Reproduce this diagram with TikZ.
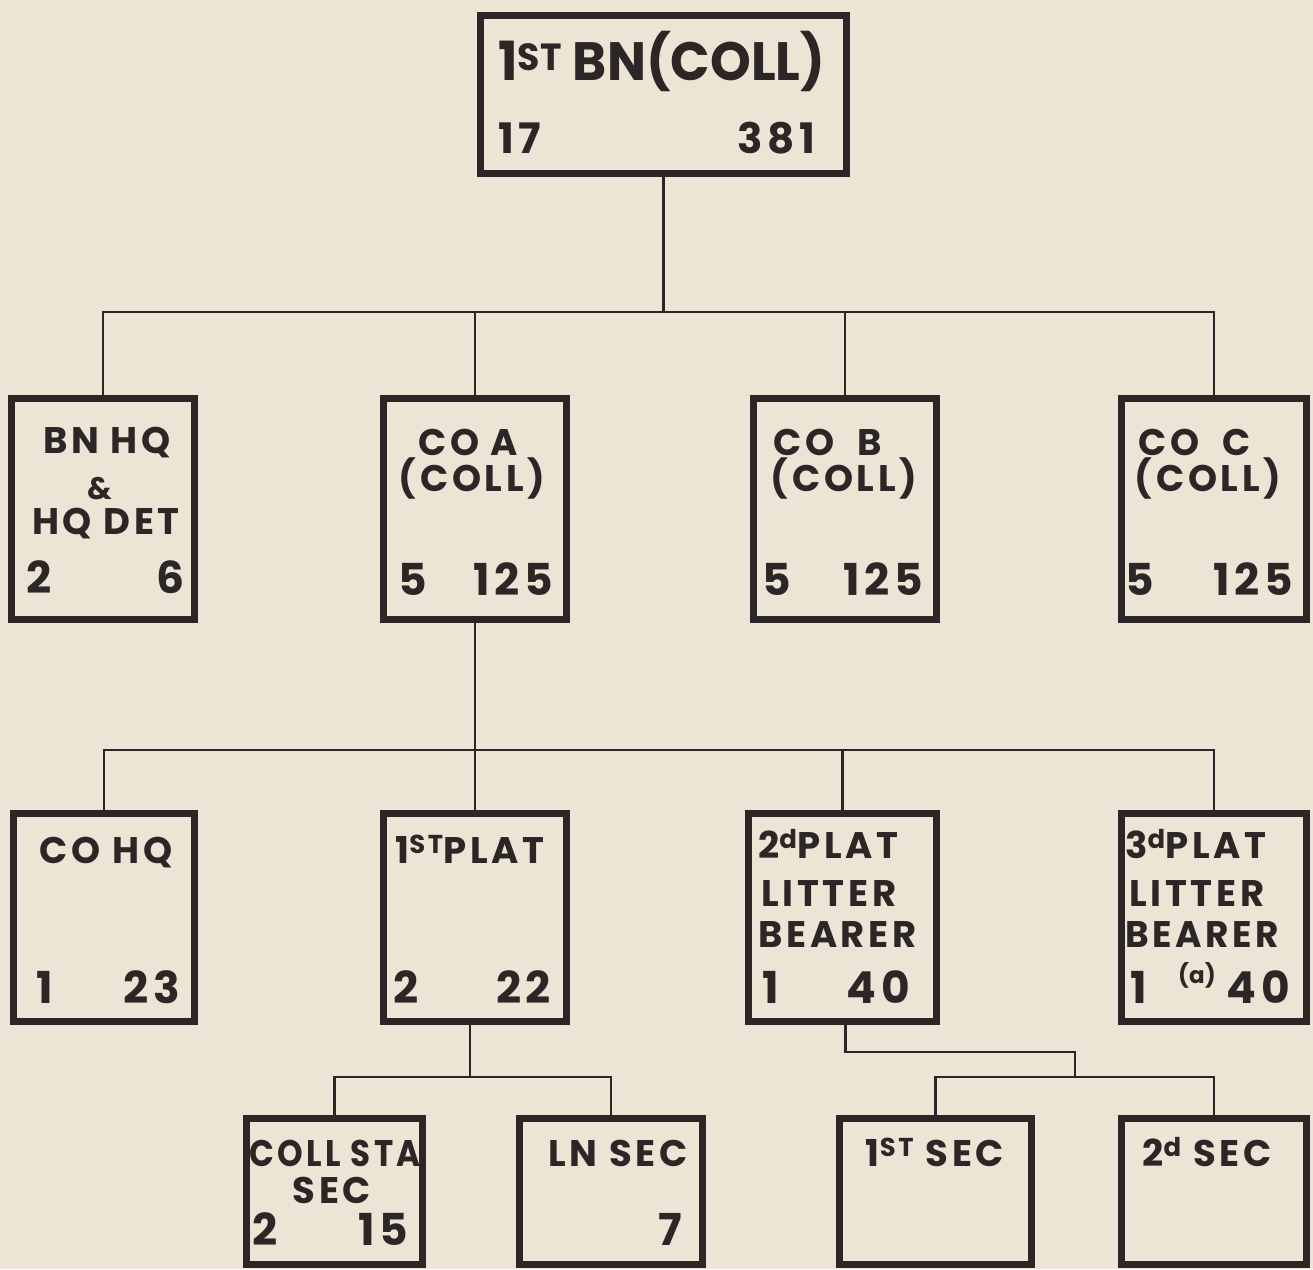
\documentclass[tikz,border=0pt]{standalone}
\usepackage{fontspec}
\newfontfamily\lett{Poppins}[LetterSpace=10]
\newfontfamily\lettb{Poppins}[LetterSpace=0]
\definecolor{bg}{RGB}{236,229,213}
\definecolor{ink}{RGB}{45,38,38}
\begin{document}
\begin{tikzpicture}[x=1pt,y=-1pt,
  box/.style={draw=ink, line width=7pt, inner sep=0pt},
  link/.style={draw=ink, line width=2.3pt},
  ttl/.style={text=ink, inner sep=0pt, font=\lett\bfseries\fontsize{37}{40}\selectfont},
  bigttl/.style={text=ink, inner sep=0pt, font=\lettb\bfseries\fontsize{54}{58}\selectfont},
  num/.style={text=ink, inner sep=0pt, font=\lett\bfseries\fontsize{44}{48}\selectfont},
  bignum/.style={text=ink, inner sep=0pt, font=\lett\bfseries\fontsize{42}{46}\selectfont},
  small/.style={text=ink, inner sep=0pt, font=\lettb\bfseries\fontsize{23}{25}\selectfont},
  amp/.style={text=ink, inner sep=0pt, font=\lettb\bfseries\fontsize{31}{33}\selectfont}]
\fill[bg] (0,0) rectangle (1313,1269);
\useasboundingbox (0,0) rectangle (1313,1269);

% boxes
\node[box, minimum width=366, minimum height=158] (top) at (663.5,94.5) {};
\node[box, minimum width=183, minimum height=221] (bnhq) at (103,509) {};
\node[box, minimum width=183, minimum height=221] (coa) at (475,509) {};
\node[box, minimum width=183, minimum height=221] (cob) at (845,509) {};
\node[box, minimum width=185, minimum height=221] (coc) at (1214,509) {};
\node[box, minimum width=181, minimum height=208] (cohq) at (104,917.5) {};
\node[box, minimum width=183, minimum height=208] (plat1) at (475,917.5) {};
\node[box, minimum width=188, minimum height=208] (plat2) at (842.5,917.5) {};
\node[box, minimum width=185, minimum height=208] (plat3) at (1214,917.5) {};
\node[box, minimum width=176, minimum height=146] (collsta) at (334.5,1191.5) {};
\node[box, minimum width=183, minimum height=146] (lnsec) at (611,1191.5) {};
\node[box, minimum width=192, minimum height=146] (sec1) at (935.5,1191.5) {};
\node[box, minimum width=185, minimum height=146] (sec2) at (1214,1191.5) {};

% connectors
\coordinate (j1) at (663.5,312);
\coordinate (j2) at (475,750);
\coordinate (j3) at (470,1077);
\coordinate (j4) at (1075,1077);
\draw[link] (top.south) -- (j1);
\draw[link] (bnhq.north) -- (bnhq.north |- j1) -- (coc.north |- j1) -- (coc.north);
\draw[link] (coa.north) -- (coa.north |- j1);
\draw[link] (cob.north) -- (cob.north |- j1);
\draw[link] (coa.south) -- (j2);
\draw[link] (cohq.north) -- (cohq.north |- j2) -- (plat3.north |- j2) -- (plat3.north);
\draw[link] (plat1.north) -- (plat1.north |- j2);
\draw[link] (plat2.north) -- (plat2.north |- j2);
\draw[link] (plat1.south -| j3) -- (j3);
\draw[link] (collsta.north) |- (j3) -| (lnsec.north);
\draw[link] ([xshift=3pt]plat2.south) -- ++(0,27) -| (j4);
\draw[link] (sec1.north) |- (j4) -| (sec2.north);

% texts: top
\node[bigttl, anchor=base west] (t1) at (498,80) {\scalebox{0.96}[1]{1\textsuperscript{ST} BN(COLL)}};
\node[bignum, anchor=base west] (t1a) at (498,153) {17};
\node[bignum, anchor=base east] (t1b) at (815,153) {381};
% level 2
\node[ttl, anchor=base] (t2a) at (107,453) {BN HQ};
\node[amp, anchor=base] (t2b) at (100,499) {\&};
\node[ttl, anchor=base] (t2c) at (106,534) {HQ DET};
\node[num, anchor=base west] (n2a) at (26,593) {2};
\node[num, anchor=base east] (n2b) at (185,593) {6};
\node[ttl, anchor=base] (t3a) at (468,455) {CO A};
\node[ttl, anchor=base] (t3b) at (472,491) {(COLL)};
\node[num, anchor=base west] (n3a) at (398,595) {5};
\node[num, anchor=base east] (n3b) at (553,595) {125};
\node[ttl, anchor=base] (t4a) at (828,455) {CO\ \ B};
\node[ttl, anchor=base] (t4b) at (844,491) {(COLL)};
\node[num, anchor=base west] (n4a) at (762,595) {5};
\node[num, anchor=base east] (n4b) at (923,595) {125};
\node[ttl, anchor=base] (t5a) at (1195,455) {CO\ \ C};
\node[ttl, anchor=base] (t5b) at (1208,491) {(COLL)};
\node[num, anchor=base west] (n5a) at (1125,595) {5};
\node[num, anchor=base east] (n5b) at (1293,595) {125};
% level 3
\node[ttl, anchor=base] (t6a) at (106,863) {CO HQ};
\node[num, anchor=base west] (n6a) at (36,1003) {1};
\node[num, anchor=base east] (n6b) at (180,1003) {23};
\node[ttl, anchor=base] (t7a) at (470,863) {1\textsuperscript{ST}PLAT};
\node[num, anchor=base west] (n7a) at (393,1003) {2};
\node[num, anchor=base east] (n7b) at (551,1003) {22};
\node[ttl, anchor=base west] (t8a) at (758,858) {2\textsuperscript{d}PLAT};
\node[ttl, anchor=base west] (t8b) at (761,906) {LITTER};
\node[ttl, anchor=base west] (t8c) at (758,947) {BEARER};
\node[num, anchor=base west] (n8a) at (762,1003) {1};
\node[num, anchor=base east] (n8b) at (910,1003) {40};
\node[ttl, anchor=base west] (t9a) at (1125,858) {3\textsuperscript{d}PLAT};
\node[ttl, anchor=base west] (t9b) at (1129,906) {LITTER};
\node[ttl, anchor=base west] (t9c) at (1125,947) {\scalebox{0.97}[1]{BEARER}};
\node[num, anchor=base west] (n9a) at (1130,1003) {1};
\node[small, anchor=base] (n9s) at (1197,983) {(a)};
\node[num, anchor=base east] (n9b) at (1290,1003) {40};
% level 4
\node[ttl, anchor=base] (t10a) at (335,1166) {\scalebox{0.88}[1]{COLL STA}};
\node[ttl, anchor=base] (t10b) at (332,1203) {SEC};
\node[num, anchor=base west] (n10a) at (252,1245) {2};
\node[num, anchor=base east] (n10b) at (408,1245) {15};
\node[ttl, anchor=base] (t11a) at (618,1166) {LN SEC};
\node[num, anchor=base east] (n11b) at (682,1245) {7};
\node[ttl, anchor=base] (t12a) at (935,1166) {1\textsuperscript{ST} SEC};
\node[ttl, anchor=base] (t13a) at (1207,1166) {2\textsuperscript{d} SEC};
\end{tikzpicture}
\end{document}
